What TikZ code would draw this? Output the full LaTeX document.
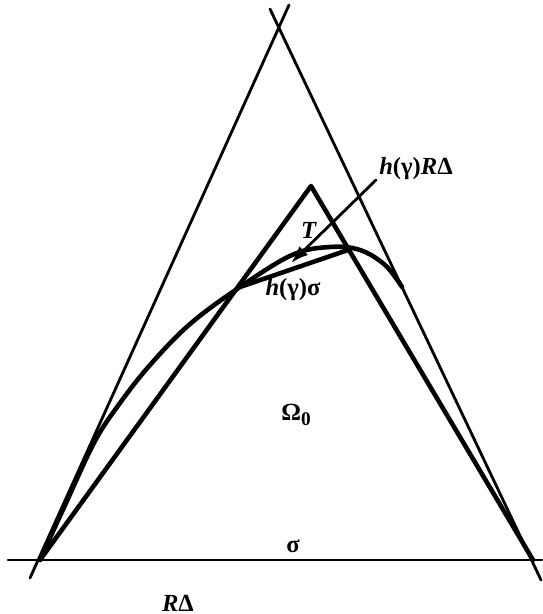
\documentclass[tikz,border=0pt]{standalone}
\usepackage{fontspec}
\setmainfont{Liberation Serif}
\usepackage{tikz}
\usetikzlibrary{arrows.meta}

\tikzset{thin line/.style={line width=1.6pt},
	thick line/.style={line width=2.6pt},
	lab/.style={font=\fontsize{14}{16}\selectfont\bfseries}}

\begin{document}
\begin{tikzpicture}[x=0.02cm,y=-0.02cm,line cap=round,line join=round]
\useasboundingbox (0,0) rectangle (542,614);

\coordinate (bl) at (40,560);
\coordinate (br) at (533,560);
\coordinate (top) at (311,186);
\coordinate (p) at (240,287);
\coordinate (q) at (348,250);

% R Delta
		\draw [thin line](30,578) -- (289,5);
		\draw [thin line](270,9) -- (541,580);
		\draw [thin line](8,560) -- (542,560);

% Omega_0
\draw [thick line](bl) -- (top) -- (br);
\draw [thick line](p) -- (q);
\draw [thick line] plot[smooth,tension=0.6] coordinates {(bl) (66,503) (95,441) (120,403) (150,365) (190,324) (p) (292,255) (330,247) (360,250) (385,265) (402,287)};

\node [lab] (hR) at (416,169) {\textit{h}(γ)\textit{R}Δ};
\coordinate (tip) at (291,263);
\draw [thin line,-{Latex[length=10pt,width=7pt]}](376,180) -- (tip);

\node [lab] (T) at (309,230) {\textit{T}};
\node [lab] (hs) at (293,290) {\textit{h}(γ)σ};
\node [lab] (Om) at (296,415) {Ω\raisebox{-0.45ex}{\fontsize{11}{12}\selectfont 0}};
\node [lab] (sig) at (293,546) {σ};
\node [lab] (RD) at (178,603) {\textit{R}Δ};
		\end{tikzpicture}
\end{document}
